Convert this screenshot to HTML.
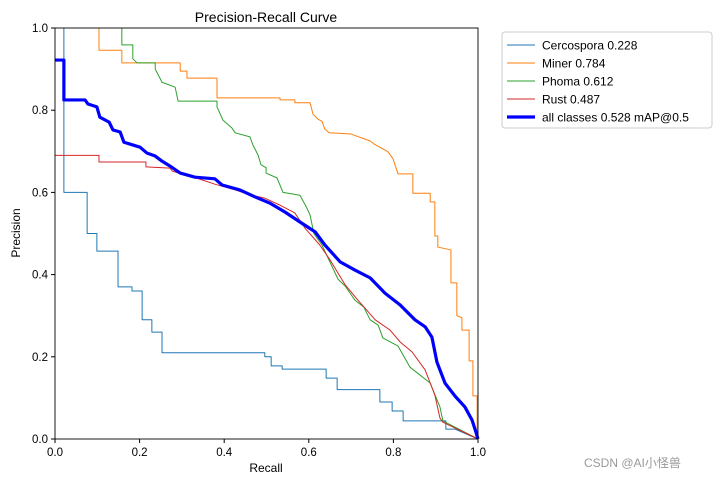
<!DOCTYPE html>
<html><head><meta charset="utf-8"><style>
body{margin:0;background:#fff;}
svg text{font-family:"Liberation Sans","DejaVu Sans","Noto Sans CJK SC",sans-serif;}
</style></head><body>
<svg id="chart" width="720" height="475" xmlns="http://www.w3.org/2000/svg">
<rect width="720" height="475" fill="#fff"/>
<text x="266" y="22" font-size="14" text-anchor="middle">Precision-Recall Curve</text>
<g id="axes"></g>
<g id="series" clip-path="url(#clip)"></g>
<defs><clipPath id="clip"><rect x="53" y="26" width="427" height="415"/></clipPath></defs>
<rect x="55" y="28" width="423" height="411" fill="none" stroke="#000" stroke-width="0.9"/>
<text x="266" y="472" font-size="12" text-anchor="middle">Recall</text>
<text x="20" y="233" font-size="12" text-anchor="middle" transform="rotate(-90 20 233)">Precision</text>
<g id="legend">
<rect x="502" y="32" width="210" height="96" fill="#fff" stroke="#ccc" rx="3"/>
</g>
<text x="584" y="467" font-size="12" fill="#999">CSDN @AI小怪兽</text>
</svg>
<script>
const ticks=[0,0.2,0.4,0.6,0.8,1.0];
const tickLabels=["0.0","0.2","0.4","0.6","0.8","1.0"];
const seriesNames=["Cercospora 0.228","Miner 0.784","Phoma 0.612","Rust 0.487","all classes 0.528 mAP@0.5"];
const cercR=[0.021,0.021,0.076,0.076,0.099,0.099,0.149,0.149,0.182,0.182,0.206,0.206,0.229,0.229,0.253,0.253,0.496,0.496,0.511,0.511,0.537,0.537,0.641,0.641,0.667,0.667,0.768,0.768,0.797,0.797,0.823,0.823,0.924,0.924,0.946,1.0];
const cercP=[1.0,0.60,0.60,0.50,0.50,0.457,0.457,0.37,0.37,0.36,0.36,0.29,0.29,0.26,0.26,0.21,0.21,0.2,0.2,0.178,0.178,0.17,0.17,0.148,0.148,0.12,0.12,0.09,0.09,0.068,0.068,0.044,0.044,0.024,0.024,0.0];
const minerR=[0.104,0.104,0.158,0.158,0.296,0.296,0.312,0.312,0.383,0.383,0.532,0.532,0.567,0.567,0.603,0.610,0.622,0.631,0.638,0.648,0.700,0.745,0.754,0.787,0.799,0.811,0.846,0.846,0.887,0.887,0.898,0.898,0.905,0.905,0.936,0.936,0.95,0.95,0.962,0.962,0.979,0.979,0.988,0.988,0.998,0.998];
const minerP=[1.0,0.946,0.946,0.915,0.915,0.895,0.895,0.878,0.878,0.83,0.83,0.825,0.825,0.818,0.818,0.79,0.778,0.773,0.754,0.745,0.742,0.725,0.718,0.699,0.682,0.645,0.645,0.598,0.598,0.577,0.577,0.494,0.494,0.467,0.46,0.38,0.38,0.30,0.295,0.265,0.265,0.19,0.19,0.105,0.105,0.0];
const phomaR=[0.158,0.158,0.184,0.184,0.194,0.237,0.237,0.253,0.284,0.291,0.383,0.383,0.397,0.418,0.426,0.461,0.468,0.480,0.487,0.499,0.499,0.525,0.539,0.579,0.593,0.603,0.612,0.631,0.669,0.686,0.709,0.730,0.745,0.764,0.775,0.811,0.839,0.887,0.910,0.917,1.0];
const phomaP=[1.0,0.959,0.959,0.925,0.915,0.915,0.90,0.868,0.856,0.822,0.822,0.808,0.776,0.757,0.745,0.735,0.715,0.691,0.667,0.66,0.647,0.635,0.6,0.593,0.567,0.545,0.5,0.472,0.389,0.372,0.338,0.321,0.29,0.277,0.246,0.226,0.175,0.136,0.078,0.044,0.0];
const rustR=[0,0.104,0.104,0.215,0.215,0.272,0.277,0.307,0.343,0.378,0.426,0.461,0.496,0.532,0.567,0.591,0.626,0.650,0.686,0.716,0.757,0.792,0.816,0.844,0.875,0.898,0.910,0.917,1.0];
const rustP=[0.69,0.69,0.674,0.674,0.662,0.659,0.652,0.642,0.632,0.62,0.606,0.594,0.586,0.569,0.55,0.513,0.472,0.436,0.375,0.338,0.29,0.265,0.236,0.212,0.168,0.107,0.051,0.041,0.0];
const allR=[0,0.021,0.021,0.071,0.078,0.099,0.106,0.128,0.137,0.154,0.163,0.201,0.217,0.236,0.253,0.272,0.296,0.331,0.378,0.395,0.437,0.473,0.508,0.544,0.579,0.615,0.638,0.674,0.709,0.745,0.780,0.816,0.851,0.875,0.891,0.903,0.922,0.946,0.969,0.986,0.995,1.0];
const allP=[0.922,0.922,0.825,0.825,0.815,0.808,0.783,0.771,0.752,0.747,0.722,0.71,0.696,0.689,0.676,0.664,0.647,0.637,0.633,0.618,0.606,0.589,0.574,0.552,0.528,0.504,0.472,0.431,0.411,0.392,0.355,0.326,0.29,0.273,0.248,0.187,0.136,0.104,0.078,0.046,0.017,0.0];

const NS="http://www.w3.org/2000/svg";
const X0=55,X1=478,Y0=439,Y1=28;
function sx(v){return X0+v*(X1-X0);}
function sy(v){return Y0-v*(Y0-Y1);}
const axes=document.getElementById('axes');
ticks.forEach((t,i)=>{
  const lx=document.createElementNS(NS,'line');
  
  
  lx.setAttribute('x1',sx(t));lx.setAttribute('x2',sx(t));lx.setAttribute('y1',Y0);lx.setAttribute('y2',Y0+4);lx.setAttribute('stroke','#000');
  axes.appendChild(lx);
  const tx=document.createElementNS(NS,'text');
  
  
  tx.setAttribute('x',sx(t));tx.setAttribute('y',Y0+17);tx.setAttribute('font-size','11.5');tx.setAttribute('text-anchor','middle');
  tx.textContent=tickLabels[i];axes.appendChild(tx);
  const ly=document.createElementNS(NS,'line');
  
  
  ly.setAttribute('x1',X0-4);ly.setAttribute('x2',X0);ly.setAttribute('y1',sy(t));ly.setAttribute('y2',sy(t));ly.setAttribute('stroke','#000');
  axes.appendChild(ly);
  const ty=document.createElementNS(NS,'text');
  
  
  ty.setAttribute('x',X0-7);ty.setAttribute('y',sy(t)+4);ty.setAttribute('font-size','11.5');ty.setAttribute('text-anchor','end');
  ty.textContent=tickLabels[i];axes.appendChild(ty);
});
const series=[[cercR,cercP,'#1f77b4',1,'cercospora-curve'],[minerR,minerP,'#ff7f0e',1,'miner-curve'],[phomaR,phomaP,'#2ca02c',1,'phoma-curve'],[rustR,rustP,'#d62728',1,'rust-curve'],[allR,allP,'#0000ff',3.2,'all-classes-curve']];
const sg=document.getElementById('series'),lg=document.getElementById('legend');
series.forEach((s,i)=>{
  const pl=document.createElementNS(NS,'polyline');
  
  
  pl.setAttribute('points',s[0].map((r,j)=>sx(r)+','+sy(s[1][j])).join(' '));
  pl.setAttribute('fill','none');pl.setAttribute('stroke',s[2]);pl.setAttribute('stroke-width',s[3]);pl.setAttribute('stroke-linejoin','round');
  sg.appendChild(pl);
  const y=45+i*18;
  const ll=document.createElementNS(NS,'line');
  
  
  ll.setAttribute('x1',507);ll.setAttribute('x2',535);ll.setAttribute('y1',y);ll.setAttribute('y2',y);ll.setAttribute('stroke',s[2]);ll.setAttribute('stroke-width',s[3]);
  lg.appendChild(ll);
  const lt=document.createElementNS(NS,'text');
  
  
  lt.setAttribute('x',542);lt.setAttribute('y',y+4.5);lt.setAttribute('font-size','12');
  lt.textContent=seriesNames[i];lg.appendChild(lt);
});
</script>
</body></html>
